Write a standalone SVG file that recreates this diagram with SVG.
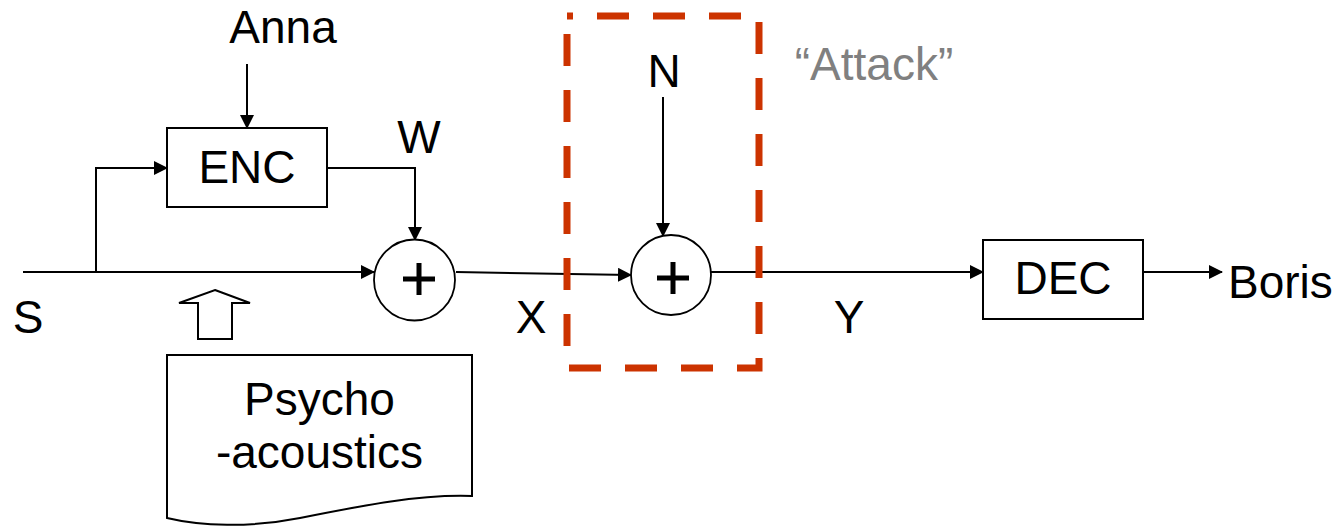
<svg xmlns="http://www.w3.org/2000/svg" width="1341" height="528" viewBox="0 0 1341 528">
<style>
  .t { font-family: "Liberation Sans", Arial, sans-serif; font-size: 46px; fill: #000; }
  .box { fill: #fff; stroke: #000; stroke-width: 2; }
  .ln { fill: none; stroke: #000; stroke-width: 2; }
  .plus { fill: none; stroke: #000; stroke-width: 5; }
</style>
<defs>
  <marker id="ah" markerUnits="userSpaceOnUse" markerWidth="14" markerHeight="14" refX="13" refY="7" orient="auto">
    <path d="M0,0 L14,7 L0,14 Z" fill="#000"/>
  </marker>
</defs>
<rect width="1341" height="528" fill="#fff"/>

<g id="connectors">
  <path class="ln" d="M247,64 V128" marker-end="url(#ah)"/>
  <path class="ln" d="M23,272 H374" marker-end="url(#ah)"/>
  <path class="ln" d="M96,272 V168 H167" marker-end="url(#ah)"/>
  <path class="ln" d="M327,168 H415 V240" marker-end="url(#ah)"/>
  <path class="ln" d="M456,272 L631,275" marker-end="url(#ah)"/>
  <path class="ln" d="M663,97 V236" stroke-width="1.6" marker-end="url(#ah)"/>
  <path class="ln" d="M711,272 H983" marker-end="url(#ah)"/>
  <path class="ln" d="M1143,272 H1222" marker-end="url(#ah)"/>
</g>

<g id="anna"><text class="t" x="283" y="43" text-anchor="middle">Anna</text></g>

<g id="enc">
  <rect class="box" x="167" y="128" width="160" height="79"/>
  <text class="t" x="247" y="183" text-anchor="middle">ENC</text>
</g>

<g id="w"><text class="t" x="419" y="153" text-anchor="middle">W</text></g>
<g id="s"><text class="t" x="28" y="333" text-anchor="middle">S</text></g>
<g id="x"><text class="t" x="531" y="333" text-anchor="middle">X</text></g>
<g id="y"><text class="t" x="849" y="333" text-anchor="middle">Y</text></g>
<g id="n"><text class="t" x="664" y="87" text-anchor="middle">N</text></g>

<g id="sum1">
  <circle cx="414.5" cy="280" r="40.5" fill="#fff" stroke="#000" stroke-width="1.8"/>
  <path class="plus" d="M403,279 H435 M419,263 V295"/>
</g>

<g id="sum2">
  <circle cx="671" cy="275" r="40" fill="#fff" stroke="#000" stroke-width="1.8"/>
  <path class="plus" d="M657,278 H689 M673,262 V294"/>
</g>

<g id="attack">
  <rect x="567" y="16" width="192" height="352" fill="none" stroke="#CC3300" stroke-width="7" stroke-dasharray="32 24" stroke-dashoffset="26"/>
  <text class="t" x="874" y="80" text-anchor="middle" fill="#808080" style="fill:#808080">“Attack”</text>
</g>

<g id="dec">
  <rect class="box" x="983" y="240" width="160" height="79"/>
  <text class="t" x="1063" y="294" text-anchor="middle">DEC</text>
</g>

<g id="boris"><text class="t" x="1228" y="298">Boris</text></g>

<g id="psycho-arrow">
  <path d="M215,290 L250,303 H232 V339 H198 V303 H179 Z" fill="#fff" stroke="#000" stroke-width="2"/>
</g>

<g id="psycho">
  <path d="M167,355 H472 V496 C420,494 360,506 300,518 C250,528 200,526 167,518 Z" fill="#fff" stroke="#000" stroke-width="2"/>
  <text class="t" x="319.5" y="415" text-anchor="middle">Psycho</text>
  <text class="t" x="319.5" y="468" text-anchor="middle">-acoustics</text>
</g>
</svg>
